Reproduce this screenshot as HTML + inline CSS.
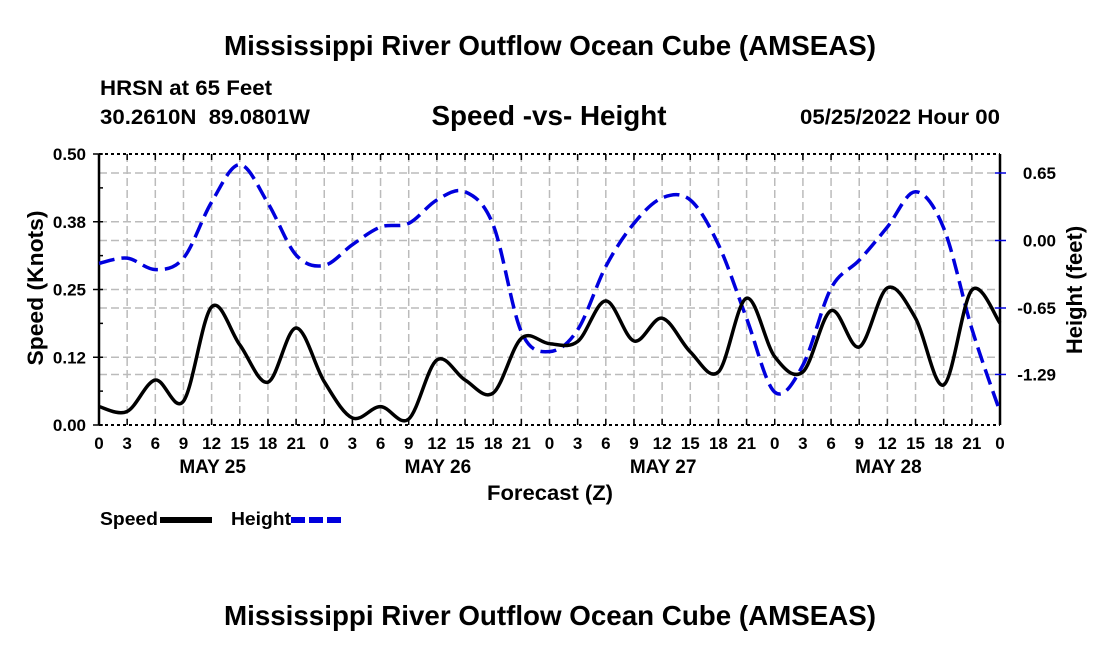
<!DOCTYPE html>
<html><head><meta charset="utf-8"><style>
body{margin:0;background:#fff;}
svg text{font-family:"Liberation Sans",sans-serif;font-weight:bold;fill:#000;}
</style></head><body>
<svg id="chart" width="1100" height="650" xmlns="http://www.w3.org/2000/svg">
<text x="550" y="55" font-size="27.5" text-anchor="middle" textLength="652" lengthAdjust="spacingAndGlyphs">Mississippi River Outflow Ocean Cube (AMSEAS)</text>
<text x="100" y="95" font-size="21" textLength="172" lengthAdjust="spacingAndGlyphs">HRSN at 65 Feet</text>
<text x="100" y="124" font-size="21" xml:space="preserve" textLength="210" lengthAdjust="spacingAndGlyphs">30.2610N  89.0801W</text>
<text x="549" y="125" font-size="27.5" text-anchor="middle" textLength="235" lengthAdjust="spacingAndGlyphs">Speed -vs- Height</text>
<text x="1000" y="124" font-size="21" text-anchor="end" textLength="200" lengthAdjust="spacingAndGlyphs">05/25/2022 Hour 00</text>
<g id="grid"></g>
<g id="axes"></g>
<g id="series"></g>
<text x="550" y="500" font-size="21" text-anchor="middle" textLength="126" lengthAdjust="spacingAndGlyphs">Forecast (Z)</text>
<text transform="translate(43,288) rotate(-90)" font-size="22" text-anchor="middle" textLength="155" lengthAdjust="spacingAndGlyphs">Speed (Knots)</text>
<text transform="translate(1082,290) rotate(-90)" font-size="22" text-anchor="middle">Height (feet)</text>
<g>
<text x="100" y="525" font-size="18" textLength="58" lengthAdjust="spacingAndGlyphs">Speed</text>
<line x1="160" y1="520" x2="212" y2="520" stroke="#000" stroke-width="6"/>
<text x="231" y="525" font-size="18" textLength="60" lengthAdjust="spacingAndGlyphs">Height</text>
<line x1="291" y1="520" x2="342" y2="520" stroke="#0000dd" stroke-width="6" stroke-dasharray="14,4"/>
</g>
<text x="550" y="625" font-size="27.5" text-anchor="middle" textLength="652" lengthAdjust="spacingAndGlyphs">Mississippi River Outflow Ocean Cube (AMSEAS)</text>
</svg>
<script>
const hours=[0,3,6,9,12,15,18,21,24,27,30,33,36,39,42,45,48,51,54,57,60,63,66,69,72,75,78,81,84,87,90,93,96];
const speed=[0.034,0.025,0.083,0.044,0.218,0.148,0.079,0.179,0.080,0.013,0.034,0.011,0.120,0.083,0.059,0.160,0.150,0.154,0.229,0.155,0.197,0.135,0.098,0.234,0.126,0.098,0.211,0.144,0.253,0.197,0.074,0.249,0.188];
const height=[-0.22,-0.17,-0.28,-0.17,0.37,0.73,0.36,-0.14,-0.24,-0.04,0.13,0.165,0.39,0.47,0.15,-0.88,-1.07,-0.86,-0.25,0.165,0.41,0.39,-0.04,-0.75,-1.46,-1.20,-0.46,-0.19,0.13,0.47,0.12,-0.85,-1.65];
const leftTicks=[0,0.125,0.25,0.375,0.5];
const leftLabels=["0.00","0.12","0.25","0.38","0.50"];
const rightTicks=[0.65,0,-0.65,-1.29];
const rightLabels=["0.65","0.00","-0.65","-1.29"];
const dayLabels=["MAY 25","MAY 26","MAY 27","MAY 28"];
const X0=99,X1=1000,Y0=425,Y1=154;
const xs=h=>X0+(h/96)*(X1-X0);
const ys=v=>Y0-(v/0.5)*(Y0-Y1);
const yh=v=>240.5-(v/0.65)*67.5;
const NS="http://www.w3.org/2000/svg";
function mk(tag,attrs,parent){const e=document.createElementNS(NS,tag);for(const k in attrs)e.setAttribute(k,attrs[k]);parent.appendChild(e);return e;}
const grid=document.getElementById('grid'),axes=document.getElementById('axes'),series=document.getElementById('series');
const gs={stroke:"#bbb","stroke-width":1.5,"stroke-dasharray":"8,4"};
for(let h=3;h<96;h+=3){const l=mk('line',Object.assign({x1:xs(h),x2:xs(h),y1:Y1,y2:Y0},gs),grid);

}
[0.125,0.25,0.375].forEach(v=>{const l=mk('line',Object.assign({x1:X0,x2:X1,y1:ys(v),y2:ys(v)},gs),grid);

});
rightTicks.forEach(v=>{const l=mk('line',Object.assign({x1:X0,x2:X1,y1:yh(v),y2:yh(v)},gs),grid);

});
let f=mk('line',{x1:X0,x2:X0,y1:Y1,y2:Y0,stroke:"#000","stroke-width":2.5},axes);


f=mk('line',{x1:X1,x2:X1,y1:Y1,y2:Y0,stroke:"#000","stroke-width":2.5},axes);


f=mk('line',{x1:X0,x2:X1,y1:Y1,y2:Y1,stroke:"#000","stroke-width":2,"stroke-dasharray":"3,3"},axes);


f=mk('line',{x1:X0,x2:X1,y1:Y0,y2:Y0,stroke:"#000","stroke-width":2,"stroke-dasharray":"3,3"},axes);


for(let h=0;h<=96;h+=3){
 const t=mk('line',{x1:xs(h),x2:xs(h),y1:Y0,y2:Y0-6,stroke:"#000","stroke-width":1.5},axes);
 
 
 const t2=mk('line',{x1:xs(h),x2:xs(h),y1:Y1,y2:Y1+6,stroke:"#000","stroke-width":1.5},axes);
 
 
 const lb=mk('text',{x:xs(h),y:449,"font-size":17,"text-anchor":"middle"},axes);lb.textContent=String(h%24);
 
 
}
dayLabels.forEach((d,i)=>{const t=mk('text',{x:xs(12+24*i)+1,y:473,"font-size":19,"text-anchor":"middle"},axes);t.textContent=d;

});
leftTicks.forEach((v,i)=>{
 const t=mk('line',{x1:X0-6,x2:X0+4,y1:ys(v),y2:ys(v),stroke:"#000","stroke-width":1.5},axes);
 
 
 const lb=mk('text',{x:X0-13,y:ys(v)+6,"font-size":17,"text-anchor":"end"},axes);lb.textContent=leftLabels[i];
 
 
 if(i<leftTicks.length-1){const m=mk('line',{x1:X0,x2:X0+4,y1:ys(v+0.0625),y2:ys(v+0.0625),stroke:"#000","stroke-width":1.5},axes);
 
 }
});
rightTicks.forEach((v,i)=>{
 const t=mk('line',{x1:X1-5,x2:X1+6,y1:yh(v),y2:yh(v),stroke:"#0000dd","stroke-width":1.5},axes);
 
 
 const lb=mk('text',{x:1056,y:yh(v)+6,"font-size":17,"text-anchor":"end"},axes);lb.textContent=rightLabels[i];
 
 
});
function smooth(pts){let d=`M${pts[0][0]},${pts[0][1]}`;
 for(let i=0;i<pts.length-1;i++){const p0=pts[Math.max(0,i-1)],p1=pts[i],p2=pts[i+1],p3=pts[Math.min(pts.length-1,i+2)];
 const c1=[p1[0]+(p2[0]-p0[0])/6,p1[1]+(p2[1]-p0[1])/6],c2=[p2[0]-(p3[0]-p1[0])/6,p2[1]-(p3[1]-p1[1])/6];
 d+=` C${c1[0]},${c1[1]} ${c2[0]},${c2[1]} ${p2[0]},${p2[1]}`;}return d;}
const hp=mk('path',{d:smooth(hours.map((h,i)=>[xs(h),yh(height[i])])),fill:"none",stroke:"#0000dd","stroke-width":3.5,"stroke-dasharray":"16,7"},series);


const sp=mk('path',{d:smooth(hours.map((h,i)=>[xs(h),ys(speed[i])])),fill:"none",stroke:"#000","stroke-width":3.5},series);


</script>
</body></html>
